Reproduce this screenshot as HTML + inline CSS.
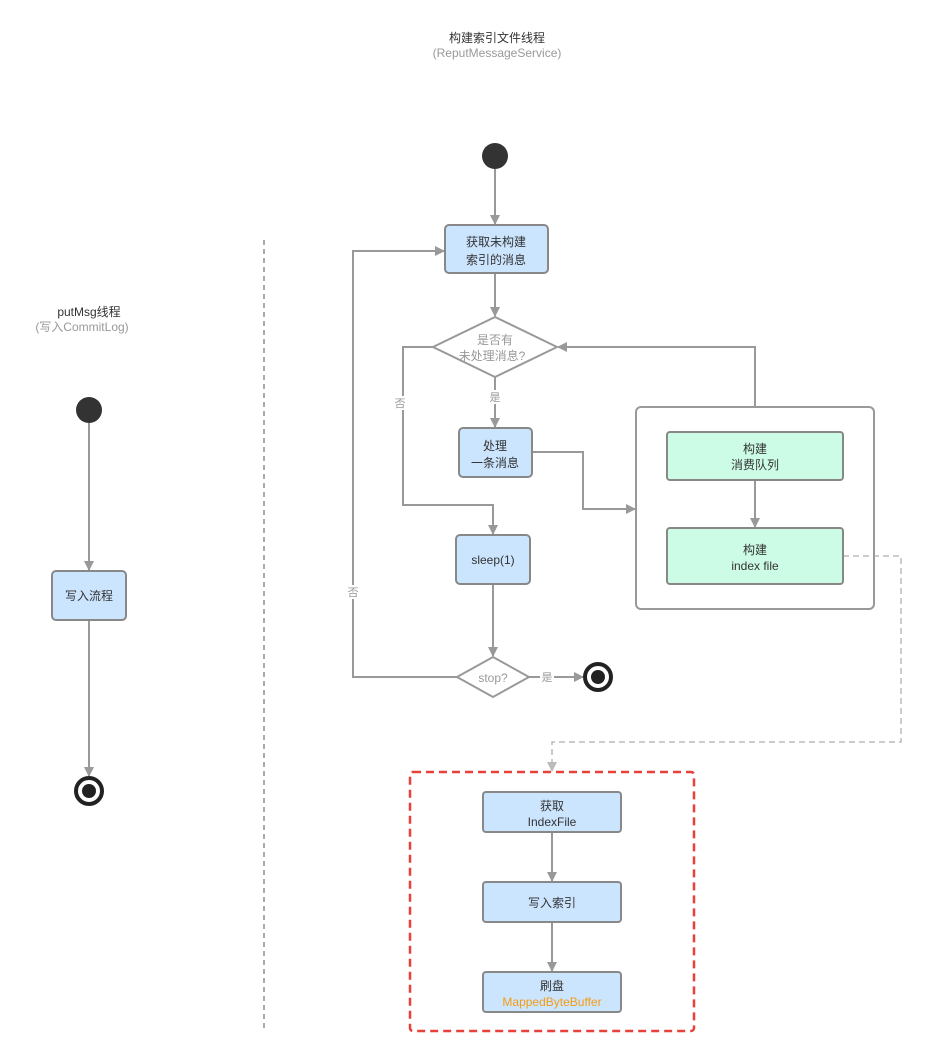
<!DOCTYPE html>
<html><head><meta charset="utf-8"><style>
html,body{margin:0;padding:0;background:#fff;}
svg{display:block;font-family:"Liberation Sans","Noto Sans CJK SC",sans-serif;}
</style></head><body>
<svg width="926" height="1058" viewBox="0 0 926 1058" xmlns="http://www.w3.org/2000/svg">
<defs>
<marker id="a" markerWidth="10" markerHeight="10" refX="9" refY="5" orient="auto" markerUnits="userSpaceOnUse"><path d="M0,0 L10,5 L0,10 z" fill="#999"/></marker>
<marker id="b" markerWidth="10" markerHeight="10" refX="9" refY="5" orient="auto" markerUnits="userSpaceOnUse"><path d="M0,0 L10,5 L0,10 z" fill="#bbb"/></marker>
</defs>
<g font-size="12" text-anchor="middle">
<text x="497" y="42" fill="#333">构建索引文件线程</text>
<text x="497" y="57" fill="#999">(ReputMessageService)</text>
<text x="89" y="316" fill="#333">putMsg线程</text>
<text x="82" y="331" fill="#999">(写入CommitLog)</text>
</g>
<line x1="264" y1="240" x2="264" y2="1030" stroke="#aaa" stroke-width="2" stroke-dasharray="5,4"/>

<g fill="none" stroke="#999" stroke-width="2">
<!-- left -->
<line x1="89" y1="423" x2="89" y2="570" marker-end="url(#a)"/>
<line x1="89" y1="620" x2="89" y2="776" marker-end="url(#a)"/>
<!-- right -->
<line x1="495" y1="169" x2="495" y2="224" marker-end="url(#a)"/>
<line x1="495" y1="273" x2="495" y2="316" marker-end="url(#a)"/>
<line x1="495" y1="377" x2="495" y2="427" marker-end="url(#a)"/>
<polyline points="433,347 403,347 403,505 493,505 493,534" marker-end="url(#a)"/>
<polyline points="532,452 583,452 583,509 635,509" marker-end="url(#a)"/>
<polyline points="755,407 755,347 558,347" marker-end="url(#a)"/>
<line x1="493" y1="584" x2="493" y2="656" marker-end="url(#a)"/>
<polyline points="457,677 353,677 353,251 444,251" marker-end="url(#a)"/>
<line x1="529" y1="677" x2="583" y2="677" marker-end="url(#a)"/>
<line x1="755" y1="480" x2="755" y2="527" marker-end="url(#a)"/>
<line x1="552" y1="832" x2="552" y2="881" marker-end="url(#a)"/>
<line x1="552" y1="922" x2="552" y2="971" marker-end="url(#a)"/>
</g>
<polyline points="843,556 901,556 901,742 552,742 552,771" fill="none" stroke="#bbb" stroke-width="1.5" stroke-dasharray="6,4" marker-end="url(#b)"/>

<!-- circles -->
<circle cx="495" cy="156" r="13" fill="#333"/>
<circle cx="89" cy="410" r="13" fill="#333"/>
<circle cx="598" cy="677" r="13" fill="#fff" stroke="#222" stroke-width="4"/>
<circle cx="598" cy="677" r="7" fill="#222"/>
<circle cx="89" cy="791" r="13" fill="#fff" stroke="#222" stroke-width="4"/>
<circle cx="89" cy="791" r="7" fill="#222"/>

<!-- boxes -->
<g fill="#cce5ff" stroke="#888" stroke-width="2">
<rect x="445" y="225" width="103" height="48" rx="4"/>
<rect x="459" y="428" width="73" height="49" rx="4"/>
<rect x="456" y="535" width="74" height="49" rx="4"/>
<rect x="52" y="571" width="74" height="49" rx="4"/>
<rect x="483" y="792" width="138" height="40" rx="3"/>
<rect x="483" y="882" width="138" height="40" rx="3"/>
<rect x="483" y="972" width="138" height="40" rx="3"/>
</g>
<rect x="636" y="407" width="238" height="202" rx="5" fill="none" stroke="#999" stroke-width="2"/>
<g fill="#ccfce6" stroke="#888" stroke-width="2">
<rect x="667" y="432" width="176" height="48" rx="3"/>
<rect x="667" y="528" width="176" height="56" rx="3"/>
</g>
<rect x="410" y="772" width="284" height="259" rx="3" fill="none" stroke="#e8413b" stroke-width="2.5" stroke-dasharray="8,5"/>

<polygon points="495,317 557,347 495,377 433,347" fill="#fff" stroke="#999" stroke-width="2"/>
<polygon points="493,657 529,677 493,697 457,677" fill="#fff" stroke="#999" stroke-width="2"/>

<g font-size="12" text-anchor="middle" fill="#333">
<text x="496" y="246">获取未构建</text>
<text x="496" y="264">索引的消息</text>
<text x="495" y="450">处理</text>
<text x="495" y="467">一条消息</text>
<text x="493" y="564">sleep(1)</text>
<text x="89" y="600">写入流程</text>
<text x="755" y="453">构建</text>
<text x="755" y="469">消费队列</text>
<text x="755" y="554">构建</text>
<text x="755" y="570">index file</text>
<text x="552" y="810">获取</text>
<text x="552" y="826">IndexFile</text>
<text x="552" y="907">写入索引</text>
<text x="552" y="990">刷盘</text>
<text x="552" y="1006" fill="#f39c12">MappedByteBuffer</text>
</g>
<g font-size="12" text-anchor="middle" fill="#999">
<text x="495" y="344">是否有</text>
<text x="492" y="360">未处理消息?</text>
<text x="493" y="682">stop?</text>
</g>
<g font-size="11" text-anchor="middle" fill="#999">
<rect x="488" y="390" width="14" height="14" fill="#fff"/>
<text x="495" y="401">是</text>
<rect x="393" y="396" width="14" height="14" fill="#fff"/>
<text x="400" y="407">否</text>
<rect x="346" y="585" width="14" height="14" fill="#fff"/>
<text x="353" y="596">否</text>
<rect x="540" y="670" width="14" height="14" fill="#fff"/>
<text x="547" y="681">是</text>
</g>
</svg>
</body></html>
